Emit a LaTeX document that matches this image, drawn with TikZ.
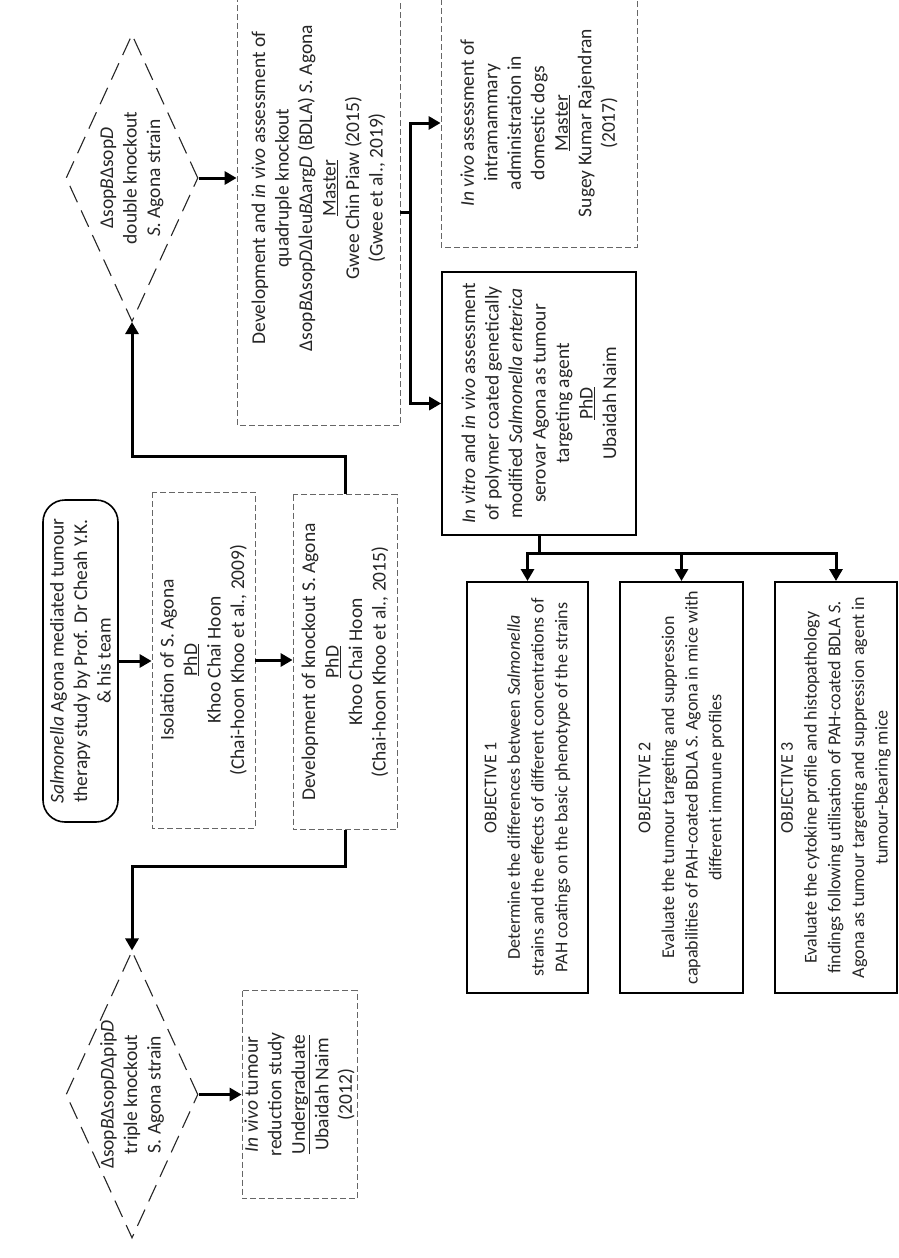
\documentclass[tikz,border=0pt]{standalone}
\usepackage{fontspec}
\setmainfont{Carlito}
\usetikzlibrary{arrows.meta,shapes.geometric}
\begin{document}
\begin{tikzpicture}[x=1pt,y=-1pt,
  every node/.style={font=\fontsize{19.5}{23.5}\selectfont, align=center, inner sep=0pt, text=black!85},
  dbox/.style={draw=gray!80!black, line width=0.8pt, dash pattern=on 6pt off 3pt, rotate=90},
  sbox/.style={draw=black, line width=1.6pt, rotate=90},
  objbox/.style={draw=black, line width=2pt, rotate=90, minimum width=411pt, font=\fontsize{18}{23.7}\selectfont},
  dshape/.style={diamond, draw=black!85, line width=1.1pt, dash pattern=on 18pt off 9pt, minimum width=132pt, minimum height=287pt, inner sep=0pt},
  rtext/.style={rotate=90},
  link/.style={draw=black, line width=3pt},
  arr/.style={link, -{Triangle[length=12pt,width=13pt]}}
]
\useasboundingbox (0,0) rectangle (899,1258);
\fill[white] (0,0) rectangle (899,1258);

% start
\node[sbox, rounded corners=22pt, minimum width=322pt, minimum height=75pt] (start) at (80.5,661)
  {\textit{Salmonella} Agona mediated tumour\\therapy study by Prof. Dr Cheah Y.K.\\\& his team};

% isolation
\node[dbox, minimum width=336pt, minimum height=103pt] (iso) at (203.5,660)
  {Isolation of S. Agona\\\underline{PhD}\\Khoo Chai Hoon\\(Chai-hoon Khoo et al., 2009)};

% development of knockout
\node[dbox, minimum width=335pt, minimum height=104pt] (dev) at (345,662)
  {Development of knockout S. Agona\\\underline{PhD}\\Khoo Chai Hoon\\(Chai-hoon Khoo et al., 2015)};

% double knockout diamond
\node[dshape] (dbl) at (132,178) {};
\node[rtext] (dblt) at (dbl.center) {Δsop\textit{B}Δsop\textit{D}\\double knockout\\\textit{S.} Agona strain};

% triple knockout diamond
\node[dshape] (tri) at (132,1094.5) {};
\node[rtext] (trit) at (tri.center) {Δsop\textit{B}Δsop\textit{D}Δpip\textit{D}\\triple knockout\\S. Agona strain};

% in vivo tumour reduction
\node[dbox, minimum width=208pt, minimum height=115pt] (tum) at (299.5,1094.5)
  {\textit{In vivo} tumour\\reduction study\\\underline{Undergraduate}\\Ubaidah Naim\\(2012)};

% quadruple knockout
\node[dbox, minimum width=474pt, minimum height=163pt] (quad) at (318.5,188)
  {Development and \textit{in vivo} assessment of\\quadruple knockout\\Δsop\textit{B}Δsop\textit{D}Δleu\textit{B}Δarg\textit{D} (BDLA) \textit{S.} Agona\\\underline{Master}\\Gwee Chin Piaw (2015)\\(Gwee et al., 2019)};

% in vivo assessment in dogs
\node[dbox, minimum width=248pt, minimum height=196pt] (viv) at (539,123)
  {\textit{In vivo} assessment of\\intramammary\\administration in\\domestic dogs\\\underline{Master}\\Sugey Kumar Rajendran\\(2017)};

% in vitro and in vivo (PhD)
\node[sbox, minimum width=263pt, minimum height=194pt] (vitro) at (539,403.5)
  {\textit{In vitro} and \textit{in vivo} assessment\\of polymer coated genetically\\modified \textit{Salmonella enterica}\\serovar Agona as tumour\\targeting agent\\\underline{PhD}\\Ubaidah Naim};

% objectives
\node[objbox, minimum height=121pt] (obj1) at (527.5,787.5)
  {OBJECTIVE 1\\Determine the differences between \textit{Salmonella}\\strains and the effects of different concentrations of\\PAH coatings on the basic phenotype of the strains};
\node[objbox, minimum height=123pt] (obj2) at (681.5,787.5)
  {OBJECTIVE 2\\Evaluate the tumour targeting and suppression\\capabilities of PAH-coated BDLA \textit{S.} Agona in mice with\\different immune profiles};
\node[objbox, minimum height=122pt] (obj3) at (836,787.5)
  {OBJECTIVE 3\\Evaluate the cytokine profile and histopathology\\findings following utilisation of PAH-coated BDLA \textit{S.}\\Agona as tumour targeting and suppression agent in\\tumour-bearing mice};

% connectors
\draw[arr] (start.south) -- (start.south -| iso.north);
\draw[arr] (iso.south) -- (iso.south -| dev.north);
\draw[arr] (dev.east) -- ++(0,-38) -| (dbl.south);
\draw[arr] (dev.west) -- ++(0,37) -| (tri.north);
\draw[arr] (dbl.east) -- (dbl.east -| quad.north);
\draw[arr] (tri.east) -- (tri.east -| tum.north);

\coordinate (qj) at (410,212);
\draw[link] (quad.south |- qj) -- (qj);
\draw[arr] (qj) -- (qj |- viv.north) -- (viv.north);
\draw[arr] (qj) -- (qj |- vitro.north) -- (vitro.north);

\draw[link] (vitro.west) -- ++(0,18) coordinate (bus);
\draw[arr] (bus) -| (obj1.east);
\draw[arr] (bus) -| (obj2.east);
\draw[arr] (bus) -| (obj3.east);
\end{tikzpicture}
\end{document}
